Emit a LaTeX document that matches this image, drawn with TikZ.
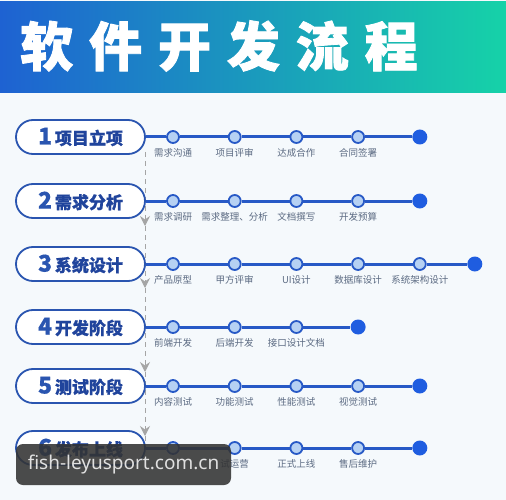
\documentclass[tikz,border=0pt]{standalone}
\usepackage{fontspec}
\setmainfont{Noto Sans CJK SC}
\newfontfamily\titlefont{Noto Sans CJK SC}[LetterSpace=30, BoldFeatures={FakeBold=1.6}]
\newfontfamily\stagefont{Noto Sans CJK SC}[BoldFeatures={FakeBold=0.6}]
\newfontfamily\markfont{Noto Sans}
\usetikzlibrary{positioning, arrows.meta}
\definecolor{pageback}{HTML}{F5F9FC}
\definecolor{headblue}{HTML}{1E62D2}
\definecolor{headgreen}{HTML}{16D2A8}
\definecolor{stageblue}{HTML}{2A55B0}
\definecolor{stagetext}{HTML}{20449C}
\definecolor{trackblue}{HTML}{2759C6}
\definecolor{taskfill}{HTML}{B6D1F3}
\definecolor{finishblue}{HTML}{1F5DE0}
\definecolor{notegray}{HTML}{5B6A82}
\definecolor{flowgray}{HTML}{A5A5A5}
\tikzset{
  stage/.style={
    draw=stageblue, line width=1.8pt, fill=white, rounded corners=17pt,
    minimum width=129pt, minimum height=34pt, inner sep=0pt,
    text=stagetext, font=\stagefont\bfseries\fontsize{17}{17}\selectfont
  },
  task/.style={
    circle, draw=trackblue, line width=1.8pt, fill=taskfill,
    minimum size=12pt, inner sep=0pt
  },
  finish/.style={circle, fill=finishblue, minimum size=15pt, inner sep=0pt},
  track/.style={draw=trackblue, line width=3pt},
  flow/.style={draw=flowgray, line width=1pt, dash pattern=on 5pt off 4pt,
    -{Stealth[length=10pt, width=10pt, inset=3.5pt, fill=flowgray]}},
  every label/.style={font=\fontsize{9.5}{10}\selectfont, text=notegray, inner sep=1pt},
  label distance=3pt,
  node distance=61.7pt, on grid
}
\newcommand{\stagenum}[2]{{\color{stageblue}\fontsize{23}{23}\selectfont #1}\,#2}

\begin{document}
\begin{tikzpicture}[x=1pt, y=-1pt]
    % page and banner
    \fill[pageback] (0,0) rectangle (506,500);
    \useasboundingbox (0,0) rectangle (506,500);
    \fill[left color=headblue, right color=headgreen] (0,2) rectangle (506,93);
    \node[anchor=west, text=white, font=\titlefont\bfseries\fontsize{53}{53}\selectfont,
          inner sep=0pt] (title) at (20,46) {软件开发流程};

    % dashed flow on the left
    \coordinate (v0) at (145,152);
    \coordinate (v1) at (145,226);
    \coordinate (v2) at (145,288);
    \coordinate (v3) at (145,372);
    \coordinate (v4) at (145,436);
    \coordinate (v5) at (145,444);
    \draw[flow] (v0) -- (v1);
    \draw[flow] (v1) -- (v2);
    \draw[flow] (v2) -- (v3);
    \draw[flow] (v3) -- (v4);
    \draw[flow, -] (v4) -- (v5);

    % stages
    \node[stage] (p1) at (80.5,137) {\stagenum{1}{项目立项}};
    \node[stage] (p2) at (80.5,201) {\stagenum{2}{需求分析}};
    \node[stage] (p3) at (80.5,264) {\stagenum{3}{系统设计}};
    \node[stage] (p4) at (80.5,327) {\stagenum{4}{开发阶段}};
    \node[stage] (p5) at (80.5,386) {\stagenum{5}{测试阶段}};
    \node[stage] (p6) at (80.5,448) {\stagenum{6}{发布上线}};

    % row 1
    \node[task, right=92.5pt of p1, label=below:需求沟通] (a1) {};
    \node[task, right=of a1, label=below:项目评审] (a2) {};
    \node[task, right=of a2, label=below:达成合作] (a3) {};
    \node[task, right=of a3, label=below:合同签署] (a4) {};
    \node[finish, right=of a4] (a5) {};
    \draw[track] (p1.east) -- (a1) -- (a2) -- (a3) -- (a4) -- (a5);

    % row 2
    \node[task, right=92.5pt of p2, label=below:需求调研] (b1) {};
    \node[task, right=of b1, label=below:需求整理、分析] (b2) {};
    \node[task, right=of b2, label=below:文档撰写] (b3) {};
    \node[task, right=of b3, label=below:开发预算] (b4) {};
    \node[finish, right=of b4] (b5) {};
    \draw[track] (p2.east) -- (b1) -- (b2) -- (b3) -- (b4) -- (b5);

    % row 3
    \node[task, right=92.5pt of p3, label=below:产品原型] (c1) {};
    \node[task, right=of c1, label=below:甲方评审] (c2) {};
    \node[task, right=of c2, label=below:UI设计] (c3) {};
    \node[task, right=of c3, label=below:数据库设计] (c4) {};
    \node[task, right=of c4, label=below:系统架构设计] (c5) {};
    \node[finish, right=55pt of c5] (c6) {};
    \draw[track] (p3.east) -- (c1) -- (c2) -- (c3) -- (c4) -- (c5) -- (c6);

    % row 4
    \node[task, right=92.5pt of p4, label=below:前端开发] (d1) {};
    \node[task, right=of d1, label=below:后端开发] (d2) {};
    \node[task, right=of d2, label=below:接口设计文档] (d3) {};
    \node[finish, right=of d3] (d4) {};
    \draw[track] (p4.east) -- (d1) -- (d2) -- (d3) -- (d4);

    % row 5
    \node[task, right=92.5pt of p5, label=below:内容测试] (e1) {};
    \node[task, right=of e1, label=below:功能测试] (e2) {};
    \node[task, right=of e2, label=below:性能测试] (e3) {};
    \node[task, right=of e3, label=below:视觉测试] (e4) {};
    \node[finish, right=of e4] (e5) {};
    \draw[track] (p5.east) -- (e1) -- (e2) -- (e3) -- (e4) -- (e5);

    % row 6
    \node[task, right=92.5pt of p6] (f1) {};
    \node[task, right=of f1, label=below:试运营] (f2) {};
    \node[task, right=of f2, label=below:正式上线] (f3) {};
    \node[task, right=of f3, label=below:售后维护] (f4) {};
    \node[finish, right=of f4] (f5) {};
    \draw[track] (p6.east) -- (f1) -- (f2) -- (f3) -- (f4) -- (f5);

    % watermark over the last row
    \node[fill=black!80, fill opacity=0.88, text opacity=1, rounded corners=7pt,
          minimum width=215pt, minimum height=41pt, text=black!12,
          font=\markfont\fontsize{19}{19}\selectfont] (mark) at (123.5,464.5)
          {fish-leyusport.com.cn};
\end{tikzpicture}
\end{document}
